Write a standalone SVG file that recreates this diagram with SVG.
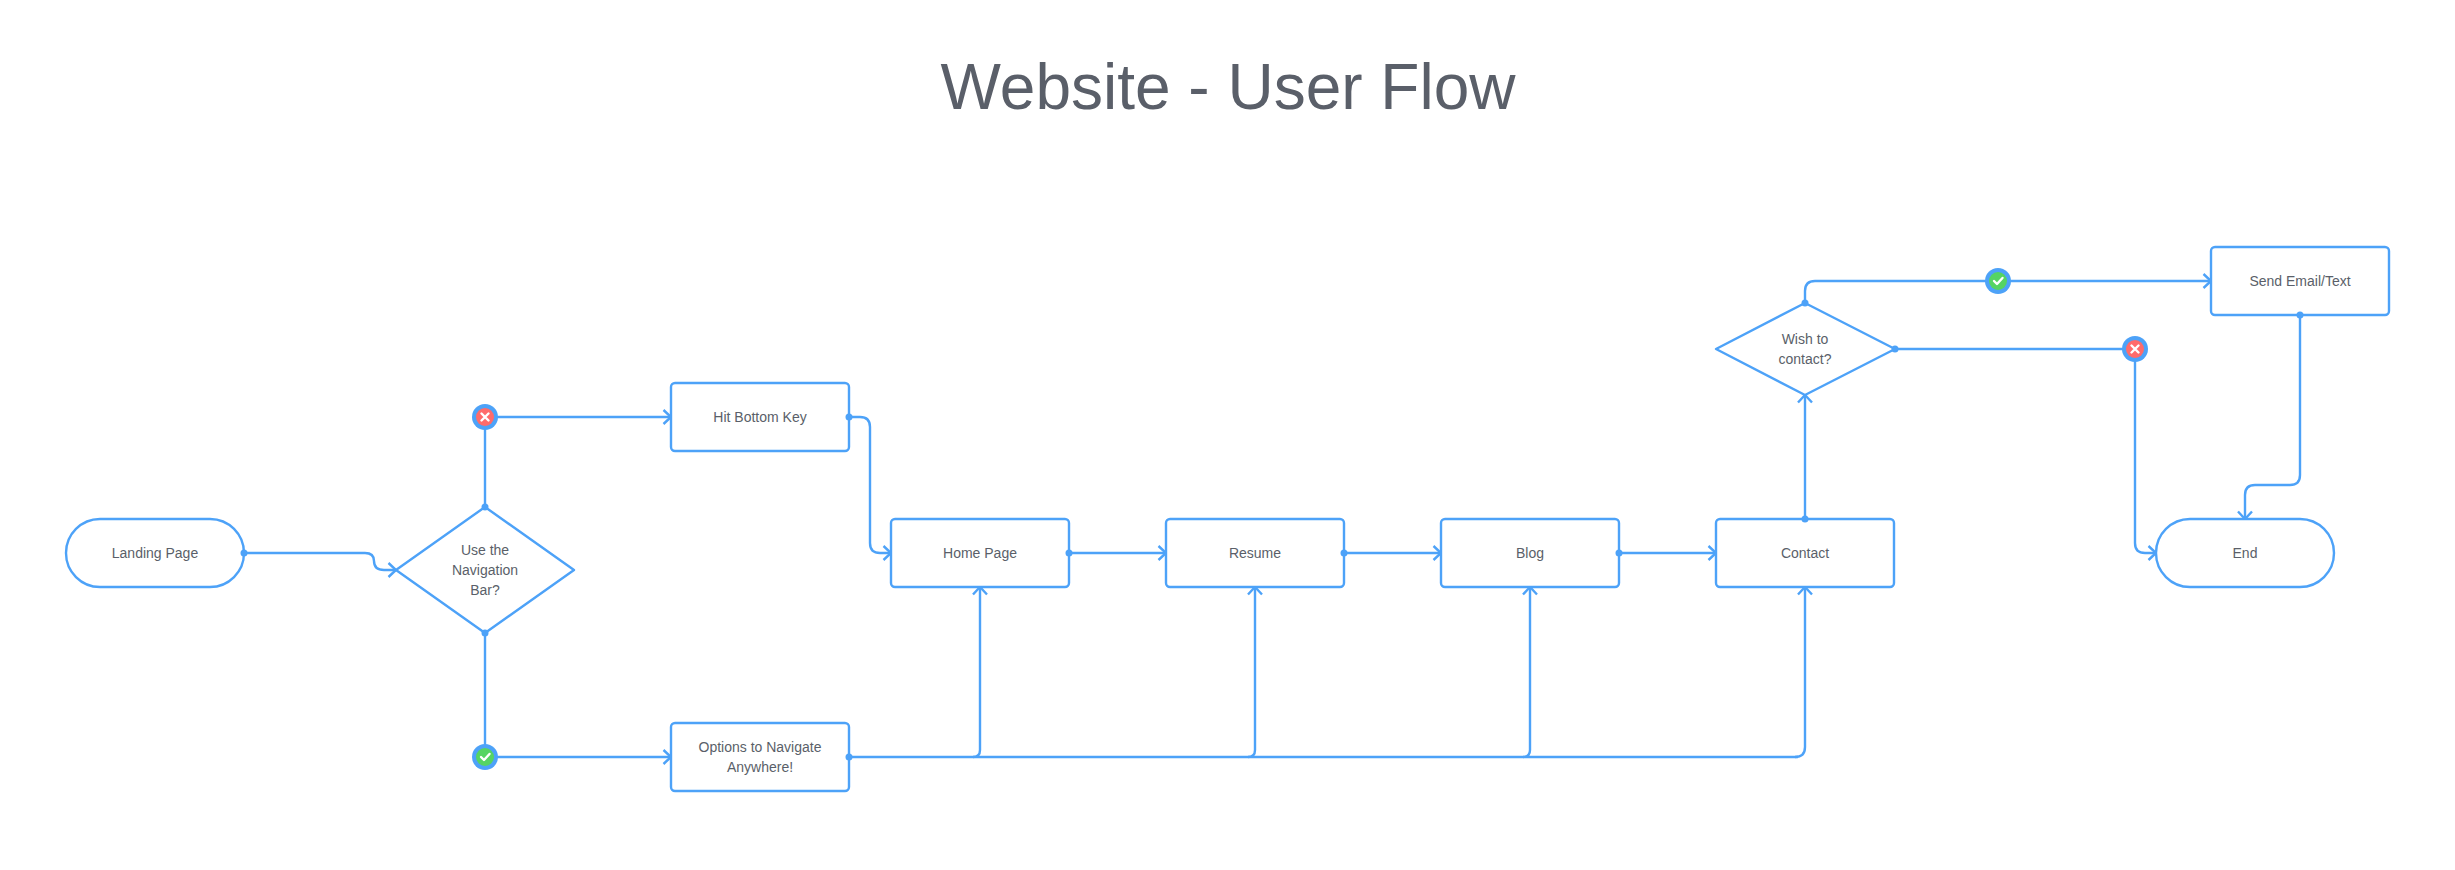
<svg xmlns="http://www.w3.org/2000/svg" width="2455" height="870" viewBox="0 0 2455 870">
<style>
text{font-family:"Liberation Sans",Arial,sans-serif;fill:#5a5f69;text-anchor:middle}
.t{font-size:14px}
.title{font-size:64px}
.s{fill:#fff;stroke:#4da2f8;stroke-width:2.4;stroke-linejoin:round}
.c{fill:none;stroke:#4da2f8;stroke-width:2.4;marker-end:url(#a)}
.n{fill:none;stroke:#4da2f8;stroke-width:2.4}
.d{fill:#4da2f8}
.o{fill:#4da2f8}
.r{fill:#ff6b6b}
.g{fill:#55d462}
.m{fill:none;stroke:#fff;stroke-width:2.4;stroke-linecap:round;stroke-linejoin:round}
</style>
<defs>
<marker id="a" markerUnits="userSpaceOnUse" markerWidth="12" markerHeight="18" refX="9.5" refY="8" orient="auto" viewBox="0 0 12 16"><path d="M2 1L9.500 8L2 15" fill="none" stroke="#4da2f8" stroke-width="2.4"/></marker>
</defs>
<rect width="2455" height="870" fill="#fff"/>
<text class="title" x="1228" y="109">Website - User Flow</text>
<g id="connectors">
<path class="c" d="M244 553H365Q374 553 374 561Q374 570 384 570H396"/>
<path class="n" d="M485 507V417"/>
<path class="c" d="M485 417H671"/>
<path class="n" d="M485 633V757"/>
<path class="c" d="M485 757H671"/>
<path class="c" d="M849 417H860Q870 417 870 427V543Q870 553 880 553H891"/>
<path class="c" d="M1069 553H1166"/>
<path class="c" d="M1344 553H1441"/>
<path class="c" d="M1619 553H1716"/>
<path class="n" d="M849 757H1798"/>
<path class="c" d="M973 757Q980 757 980 750V587"/>
<path class="c" d="M1248 757Q1255 757 1255 750V587"/>
<path class="c" d="M1523 757Q1530 757 1530 750V587"/>
<path class="c" d="M1795 757Q1805 757 1805 747V587"/>
<path class="c" d="M1805 519V395"/>
<path class="c" d="M1805 303V291Q1805 281 1815 281H2211"/>
<path class="n" d="M1895 349H2135"/>
<path class="c" d="M2135 349V543Q2135 553 2145 553H2156"/>
<path class="c" d="M2300 315V475Q2300 485 2290 485H2255Q2245 485 2245 495V519"/>
</g>
<g id="landing"><rect class="s" x="66" y="519" width="178" height="68" rx="34"/><text class="t" x="155" y="558">Landing Page</text></g>
<g id="nav-decision"><path class="s" d="M485 507L574 570L485 633L396 570Z"/><text class="t" x="485" y="555">Use the</text><text class="t" x="485" y="575">Navigation</text><text class="t" x="485" y="595">Bar?</text></g>
<g id="hit-bottom"><rect class="s" x="671" y="383" width="178" height="68" rx="4"/><text class="t" x="760" y="422">Hit Bottom Key</text></g>
<g id="options"><rect class="s" x="671" y="723" width="178" height="68" rx="4"/><text class="t" x="760" y="752">Options to Navigate</text><text class="t" x="760" y="772">Anywhere!</text></g>
<g id="home"><rect class="s" x="891" y="519" width="178" height="68" rx="4"/><text class="t" x="980" y="558">Home Page</text></g>
<g id="resume"><rect class="s" x="1166" y="519" width="178" height="68" rx="4"/><text class="t" x="1255" y="558">Resume</text></g>
<g id="blog"><rect class="s" x="1441" y="519" width="178" height="68" rx="4"/><text class="t" x="1530" y="558">Blog</text></g>
<g id="contact"><rect class="s" x="1716" y="519" width="178" height="68" rx="4"/><text class="t" x="1805" y="558">Contact</text></g>
<g id="wish-decision"><path class="s" d="M1805 303L1895 349L1805 395L1716 349Z"/><text class="t" x="1805" y="344">Wish to</text><text class="t" x="1805" y="364">contact?</text></g>
<g id="send"><rect class="s" x="2211" y="247" width="178" height="68" rx="4"/><text class="t" x="2300" y="286">Send Email/Text</text></g>
<g id="end"><rect class="s" x="2156" y="519" width="178" height="68" rx="34"/><text class="t" x="2245" y="558">End</text></g>
<g id="dots">
<circle class="d" cx="244" cy="553" r="3.5"/><circle class="d" cx="485" cy="507" r="3.5"/><circle class="d" cx="485" cy="633" r="3.5"/>
<circle class="d" cx="849" cy="417" r="3.5"/><circle class="d" cx="849" cy="757" r="3.5"/><circle class="d" cx="1069" cy="553" r="3.5"/>
<circle class="d" cx="1344" cy="553" r="3.5"/><circle class="d" cx="1619" cy="553" r="3.5"/><circle class="d" cx="1805" cy="519" r="3.5"/>
<circle class="d" cx="1805" cy="303" r="3.5"/><circle class="d" cx="1895" cy="349" r="3.5"/><circle class="d" cx="2300" cy="315" r="3.5"/>
</g>
<g id="no-1"><circle class="o" cx="485" cy="417" r="13"/><circle class="r" cx="485" cy="417" r="9"/><path class="m" d="M481.500 413.500L488.500 420.500M488.500 413.500L481.500 420.500"/></g>
<g id="yes-1"><circle class="o" cx="485" cy="757" r="13"/><circle class="g" cx="485" cy="757" r="9"/><path class="m" d="M481 757L484 760L489.500 754"/></g>
<g id="yes-2"><circle class="o" cx="1998" cy="281" r="13"/><circle class="g" cx="1998" cy="281" r="9"/><path class="m" d="M1994 281L1997 284L2002.500 278"/></g>
<g id="no-2"><circle class="o" cx="2135" cy="349" r="13"/><circle class="r" cx="2135" cy="349" r="9"/><path class="m" d="M2131.500 345.500L2138.500 352.500M2138.500 345.500L2131.500 352.500"/></g>
</svg>
